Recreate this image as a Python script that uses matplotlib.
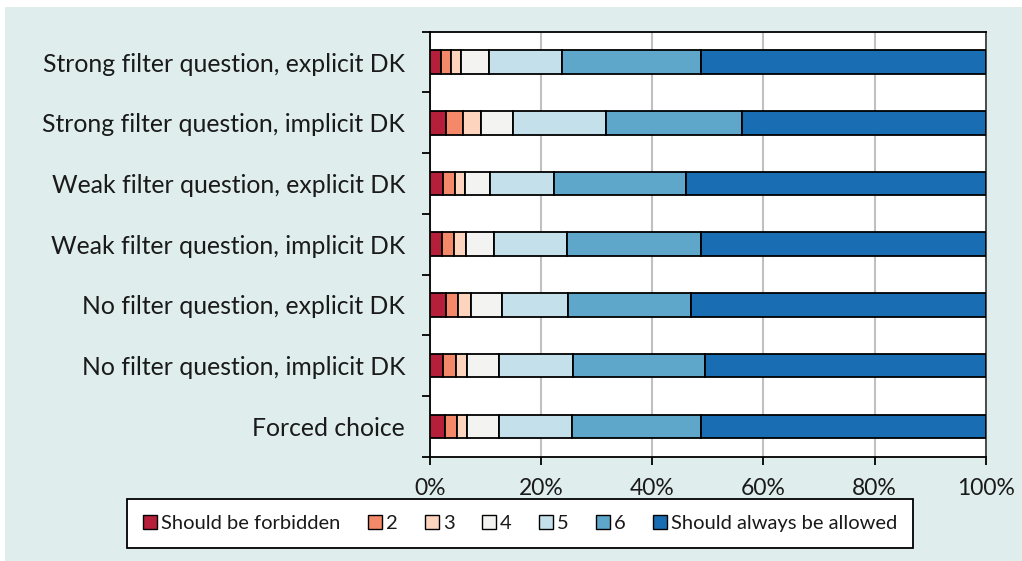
import matplotlib
matplotlib.use("Agg")
import matplotlib.pyplot as plt
from matplotlib.patches import Rectangle, Patch
import numpy as np

categories = [
    "Strong filter question, explicit DK",
    "Strong filter question, implicit DK",
    "Weak filter question, explicit DK",
    "Weak filter question, implicit DK",
    "No filter question, explicit DK",
    "No filter question, implicit DK",
    "Forced choice",
]
series_names = ["Should be forbidden", "2", "3", "4", "5", "6", "Should always be allowed"]
# percentages per category (rows) for each response level (columns)
forbidden = [1.9, 2.9, 2.4, 2.1, 2.8, 2.4, 2.7]
s2 = [1.8, 3.1, 2.1, 2.2, 2.3, 2.3, 2.1]
s3 = [1.8, 3.2, 1.8, 2.2, 2.2, 1.9, 1.9]
s4 = [5.2, 5.8, 4.5, 5.1, 5.6, 5.8, 5.8]
s5 = [13.1, 16.6, 11.6, 13.1, 11.9, 13.3, 13.0]
s6 = [24.9, 24.6, 23.6, 24.1, 22.2, 23.7, 23.3]
allowed = [51.3, 43.8, 54.0, 51.2, 53.0, 50.6, 51.2]
xtick_labels = ["0%", "20%", "40%", "60%", "80%", "100%"]

colors = ["#b51f3a", "#f4896a", "#fdd5be", "#f3f3f1", "#c4e0ea", "#5ea7ca", "#186db3"]

plt.rcParams['font.family'] = ['Lato', 'DejaVu Sans']
fig = plt.figure(figsize=(10.22, 5.61), dpi=100, facecolor="white")
fig.patches.append(Rectangle((5/1022, 0), 1, 1 - 7/561, transform=fig.transFigure,
                             facecolor="#dfeded", edgecolor="none", zorder=-10))

ax = fig.add_axes([430/1022, 1 - 456.7/561, 555.7/1022, 425/561])
ax.set_facecolor("white")

data = [forbidden, s2, s3, s4, s5, s6, allowed]
y = np.arange(len(categories))
left = np.zeros(len(categories))
for vals, name, c in zip(data, series_names, colors):
    ax.barh(y, vals, left=left, height=0.39, color=c, edgecolor="black",
            linewidth=1.3, label=name, zorder=3)
    left += np.array(vals)

ax.set_xlim(0, 100)
ax.set_ylim(6.5, -0.5)
ax.set_xticks([0, 20, 40, 60, 80, 100])
ax.set_xticklabels(xtick_labels, fontsize=16.5, color="#1a1a1a")
ax.xaxis.grid(True, color="#c0c0c0", linewidth=1.5, zorder=0)
ax.tick_params(axis="x", direction="out", length=6, width=1.3, pad=9)

ax.set_yticks(np.arange(-0.5, 7.0, 1.0))
ax.set_yticklabels([])
ax.set_yticks(y, minor=True)
ax.set_yticklabels(categories, minor=True, fontsize=17.8, color="#1a1a1a")
ax.tick_params(axis="y", which="major", direction="out", length=6, width=1.3)
ax.tick_params(axis="y", which="minor", length=0, pad=18)

for s in ["left", "top", "bottom"]:
    ax.spines[s].set_linewidth(1.3)
    ax.spines[s].set_color("black")
ax.spines["right"].set_linewidth(1.3)
ax.spines["right"].set_color("#404040")

handles = [Patch(facecolor=c, edgecolor="black", linewidth=1.0) for c in colors]
leg = fig.legend(handles, series_names, loc="center",
                 bbox_to_anchor=(520/1022, 1 - 523.5/561), ncol=7, fontsize=14.5,
                 frameon=True, fancybox=False, edgecolor="black", framealpha=1.0,
                 handlelength=0.7, handleheight=0.7, handletextpad=0.2,
                 columnspacing=1.35, borderpad=0.8, borderaxespad=0)
leg.get_frame().set_linewidth(1.3)
leg.get_frame().set_facecolor("white")
for t in leg.get_texts():
    t.set_color("#1a1a1a")

fig.savefig("out.png", dpi=100, facecolor=fig.get_facecolor())
